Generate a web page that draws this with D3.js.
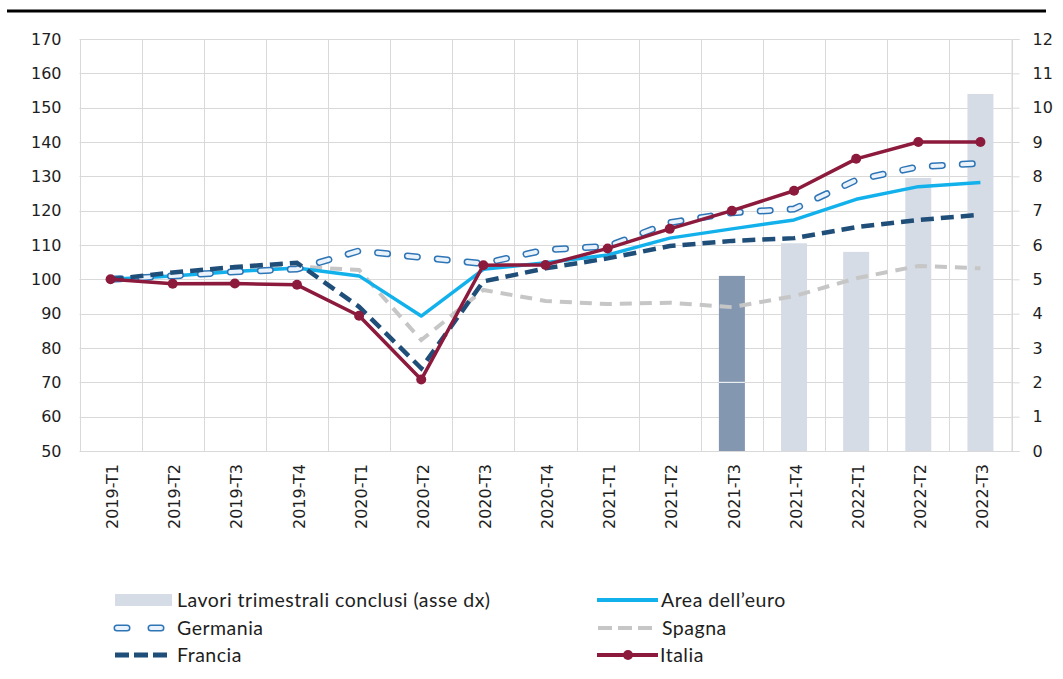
<!DOCTYPE html>
<html>
<head>
<meta charset="utf-8">
<script src="https://cdn.jsdelivr.net/npm/d3@7"></script>
<style>
  html, body { margin: 0; padding: 0; background: #ffffff; }
  svg { display: block; }
</style>
</head>
<body>
<svg id="chart" width="1063" height="679"></svg>
<script>
// ---------- data ----------
const categories = ["2019-T1","2019-T2","2019-T3","2019-T4","2020-T1","2020-T2","2020-T3","2020-T4",
                    "2021-T1","2021-T2","2021-T3","2021-T4","2022-T1","2022-T2","2022-T3"];
const lavori   = [null,null,null,null,null,null,null,null,null,null,5.1,6.05,5.8,7.95,10.4];
const highlightCategory = "2021-T3";
const euro     = [100,101,102.3,103.3,101,89.3,102.9,104.8,107.1,112,114.7,117.3,123.3,127,128.2];
const germania = [100,101,102.2,103,108.3,106.4,104.6,108.6,109.6,116.5,119.4,120.5,128.9,132.8,133.8];
const francia  = [100,102,103.6,104.8,92,74.1,99.4,103.2,106.1,109.7,111.2,112,115.2,117.3,118.8];
const spagna   = [100,101.2,102.5,103.7,102.7,82.3,96.9,93.7,92.8,93.2,91.9,95.1,100.3,103.9,103.2];
const italia   = [100,98.7,98.8,98.4,89.4,70.8,104.1,104.2,109,114.7,120,125.8,135.1,140,140];
const leftTicks  = [50,60,70,80,90,100,110,120,130,140,150,160,170];
const rightTicks = [0,1,2,3,4,5,6,7,8,9,10,11,12];
const legendLabels = {
  lavori: "Lavori trimestrali conclusi (asse dx)",
  euro: "Area dell\u2019euro",
  germania: "Germania",
  spagna: "Spagna",
  francia: "Francia",
  italia: "Italia"
};

// ---------- layout ----------
const svg = d3.select("#chart");
const pLeft = 79.5, pRight = 1011.5, pTop = 39, pBottom = 451;
const x = d3.scaleBand().domain(categories).range([pLeft, pRight]).paddingInner(0).paddingOuter(0);
const yL = d3.scaleLinear().domain([50,170]).range([pBottom, pTop]);
const yR = d3.scaleLinear().domain([0,12]).range([pBottom, pTop]);
const cx = c => x(c) + x.bandwidth()/2;

const colors = {
  grid: "#d9d9d9",
  bar: "#d6dce5",
  barHi: "#8497b0",
  euro: "#12b1ec",
  germania: "#2e75b6",
  germaniaIn: "#eaf2fb",
  francia: "#1f4e79",
  spagna: "#c6c6c6",
  italia: "#8c1a3d",
  text: "#1e1e1e"
};

// top rule
svg.append("line").attr("x1",7).attr("x2",1046).attr("y1",11).attr("y2",11)
  .attr("stroke","#000").attr("stroke-width",3);

// ---------- grid ----------
const g = svg.append("g");
g.selectAll("line.hg").data(leftTicks).join("line")
  .attr("x1", pLeft).attr("x2", pRight)
  .attr("y1", d => Math.round(yL(d))+0.5).attr("y2", d => Math.round(yL(d))+0.5)
  .attr("stroke", colors.grid).attr("stroke-width",1);
const bounds = categories.map(c => x(c)).concat([pRight]);
g.selectAll("line.vg").data(bounds).join("line")
  .attr("x1", d => Math.round(d)+0.5).attr("x2", d => Math.round(d)+0.5)
  .attr("y1", pTop).attr("y2", pBottom)
  .attr("stroke", colors.grid).attr("stroke-width",1);

// ---------- axes ----------
const axL = d3.axisLeft(yL).tickValues(leftTicks).tickSize(0).tickPadding(18);
const gL = svg.append("g").attr("transform",`translate(${pLeft},0)`).call(axL);
gL.select(".domain").remove();
gL.selectAll("text").attr("font-family","DejaVu Sans").attr("font-size",16).attr("fill",colors.text);

const axR = d3.axisRight(yR).tickValues(rightTicks).tickSize(8).tickPadding(13);
const gR = svg.append("g").attr("transform",`translate(${pRight},0)`).call(axR);
gR.select(".domain").attr("stroke",colors.grid);
gR.selectAll("line").attr("stroke",colors.grid);
gR.selectAll("text").attr("font-family","DejaVu Sans").attr("font-size",16).attr("fill",colors.text);

const axB = d3.axisBottom(x).tickSize(0);
const gB = svg.append("g").attr("transform",`translate(0,${pBottom})`).call(axB);
gB.select(".domain").attr("stroke",colors.grid);
gB.selectAll("text")
  .attr("font-family","DejaVu Sans").attr("font-size",16).attr("fill",colors.text)
  .attr("text-anchor","end")
  .attr("transform","translate(2,13) rotate(-90)")
  .attr("x",0).attr("y",0).attr("dy","0.35em");

// ---------- bars ----------
const barW = 26;
const barData = categories.map((c,i) => ({c, v: lavori[i]})).filter(d => d.v != null);
svg.append("g").selectAll("rect").data(barData).join("rect")
  .attr("x", d => cx(d.c) - barW/2)
  .attr("width", barW)
  .attr("y", d => yR(d.v))
  .attr("height", d => yR(0) - yR(d.v))
  .attr("fill", d => d.c === highlightCategory ? colors.barHi : colors.bar);
svg.append("line")
  .attr("x1", cx(highlightCategory)-barW/2).attr("x2", cx(highlightCategory)+barW/2)
  .attr("y1", yR(2)).attr("y2", yR(2))
  .attr("stroke","#ffffff").attr("stroke-width",1);

// ---------- lines ----------
const lineGen = arr => d3.line().x((d,i) => cx(categories[i])).y(d => yL(d))(arr);
const lines = svg.append("g").attr("fill","none");
lines.append("path").attr("d", lineGen(spagna))
  .attr("stroke", colors.spagna).attr("stroke-width",4).attr("stroke-dasharray","12,8");
lines.append("path").attr("d", lineGen(euro))
  .attr("stroke", colors.euro).attr("stroke-width",3.5).attr("stroke-linejoin","round");
lines.append("path").attr("d", lineGen(germania))
  .attr("stroke", colors.germania).attr("stroke-width",7).attr("stroke-linecap","round")
  .attr("stroke-dasharray","10,20");
lines.append("path").attr("d", lineGen(germania))
  .attr("stroke", colors.germaniaIn).attr("stroke-width",4).attr("stroke-linecap","round")
  .attr("stroke-dasharray","10,20");
lines.append("path").attr("d", lineGen(francia))
  .attr("stroke", colors.francia).attr("stroke-width",4.5).attr("stroke-dasharray","13,7");
lines.append("path").attr("d", lineGen(italia))
  .attr("stroke", colors.italia).attr("stroke-width",3.5).attr("stroke-linejoin","round");
svg.append("g").selectAll("circle").data(italia).join("circle")
  .attr("cx", (d,i) => cx(categories[i])).attr("cy", d => yL(d)).attr("r",5)
  .attr("fill", colors.italia);

// ---------- legend ----------
const lg = svg.append("g").attr("font-family","Lato").attr("font-size",19.5)
  .attr("letter-spacing","0.5px").attr("fill",colors.text);
const row = [600, 628, 655];
lg.append("rect").attr("x",115).attr("y",row[0]-6).attr("width",57).attr("height",12).attr("fill",colors.bar);
lg.append("text").attr("x",177).attr("y",row[0]).attr("dy","0.35em").text(legendLabels.lavori);
lg.append("line").attr("x1",117).attr("x2",165).attr("y1",row[1]).attr("y2",row[1])
  .attr("stroke",colors.germania).attr("stroke-width",7).attr("stroke-linecap","round").attr("stroke-dasharray","10,24");
lg.append("line").attr("x1",117).attr("x2",165).attr("y1",row[1]).attr("y2",row[1])
  .attr("stroke",colors.germaniaIn).attr("stroke-width",4).attr("stroke-linecap","round").attr("stroke-dasharray","10,24");
lg.append("text").attr("x",177).attr("y",row[1]).attr("dy","0.35em").text(legendLabels.germania);
lg.append("line").attr("x1",115).attr("x2",167).attr("y1",row[2]).attr("y2",row[2])
  .attr("stroke",colors.francia).attr("stroke-width",5).attr("stroke-dasharray","14,5");
lg.append("text").attr("x",177).attr("y",row[2]).attr("dy","0.35em").text(legendLabels.francia);
lg.append("line").attr("x1",597).attr("x2",658).attr("y1",row[0]).attr("y2",row[0])
  .attr("stroke",colors.euro).attr("stroke-width",4);
lg.append("text").attr("x",661).attr("y",row[0]).attr("dy","0.35em").text(legendLabels.euro);
lg.append("line").attr("x1",598).attr("x2",652).attr("y1",row[1]).attr("y2",row[1])
  .attr("stroke",colors.spagna).attr("stroke-width",4).attr("stroke-dasharray","14,6");
lg.append("text").attr("x",662).attr("y",row[1]).attr("dy","0.35em").text(legendLabels.spagna);
lg.append("line").attr("x1",597).attr("x2",658).attr("y1",row[2]).attr("y2",row[2])
  .attr("stroke",colors.italia).attr("stroke-width",4);
lg.append("circle").attr("cx",628).attr("cy",row[2]).attr("r",5).attr("fill",colors.italia);
lg.append("text").attr("x",660).attr("y",row[2]).attr("dy","0.35em").text(legendLabels.italia);
</script>
</body>
</html>
